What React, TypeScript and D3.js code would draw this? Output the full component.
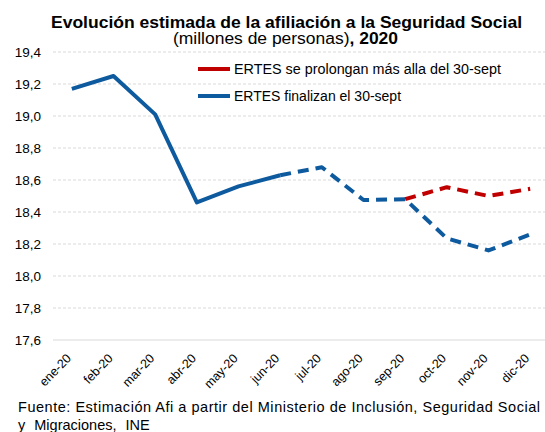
import React from "react";
import * as d3 from "d3";

const months = ["ene-20", "feb-20", "mar-20", "abr-20", "may-20", "jun-20", "jul-20", "ago-20", "sep-20", "oct-20", "nov-20", "dic-20"];
// ERTES finalizan el 30-sept (solid up to jun, estimate afterwards)
const finalizan = [19.17, 19.25, 19.01, 18.46, 18.56, 18.63, 18.68, 18.475, 18.48, 18.235, 18.16, 18.26];
// ERTES se prolongan (from sep)
const prolongan: (number | null)[] = [null, null, null, null, null, null, null, null, 18.48, 18.555, 18.5, 18.545];
const yTicks = [17.6, 17.8, 18.0, 18.2, 18.4, 18.6, 18.8, 19.0, 19.2, 19.4];
const lastObserved = 5;

const W = 545, H = 432;
const BLUE = "#0e5a9e";
const RED = "#c00000";
const FONT = "'Liberation Sans', Arial, sans-serif";

export default function App() {
  const x = d3.scaleBand<string>().domain(months).range([51, 551]).padding(0);
  const y = d3.scaleLinear().domain([17.6, 19.4]).range([340, 52]);
  const cx = (m: string) => (x(m) as number) + x.bandwidth() / 2;

  const line = d3.line<[string, number]>().x(d => cx(d[0])).y(d => y(d[1]));
  const pairs: [string, number][] = months.map((m, i) => [m, finalizan[i]]);
  const solid = line(pairs.slice(0, lastObserved + 1)) || "";
  const dashed = line(pairs.slice(lastObserved)) || "";
  const redPairs = months.map((m, i) => [m, prolongan[i]]).filter(d => d[1] != null) as [string, number][];
  const red = line(redPairs) || "";

  const fmt = (v: number) => v.toFixed(1).replace(".", ",");

  return (
    <svg width={W} height={H} style={{ position: "absolute", left: 0, top: 0, fontFamily: FONT }}>
      <rect width={W} height={H} fill="#fff" />
      <text x={51} y={28} fontSize={16.5} fontWeight="bold" fill="#000" textLength={471} lengthAdjust="spacingAndGlyphs">
        Evolución estimada de la afiliación a la Seguridad Social
      </text>
      <text x={173} y={44} fontSize={16} fill="#000" textLength={225} lengthAdjust="spacingAndGlyphs">
        (millones de personas)<tspan fontWeight="bold">, 2020</tspan>
      </text>

      {yTicks.map(t => (
        <g key={t}>
          {t > 17.6 && (
            <line x1={53} x2={W} y1={y(t)} y2={y(t)} stroke="#d9d9d9" strokeWidth={1} strokeDasharray="3,2" />
          )}
          <text x={41} y={y(t)} dy="0.36em" textAnchor="end" fontSize={13.5} fill="#000">
            {fmt(t)}
          </text>
        </g>
      ))}
      <line x1={53} x2={W} y1={y(17.6)} y2={y(17.6)} stroke="#d9d9d9" strokeWidth={1} />

      {months.map(m => (
        <text key={m} transform={`translate(${cx(m)},${359}) rotate(-46)`} textAnchor="end" fontSize={12.5} fill="#000">
          {m}
        </text>
      ))}

      <path d={solid} fill="none" stroke={BLUE} strokeWidth={4} strokeLinejoin="round" />
      <path d={dashed} fill="none" stroke={BLUE} strokeWidth={4} strokeDasharray="11,7" strokeLinejoin="round" />
      <path d={red} fill="none" stroke={RED} strokeWidth={4} strokeDasharray="11,7" strokeLinejoin="round" />

      <line x1={198} x2={230} y1={69} y2={69} stroke={RED} strokeWidth={4} />
      <text x={234} y={69} dy="0.36em" fontSize={14} fill="#000" textLength={267} lengthAdjust="spacingAndGlyphs">ERTES se prolongan más alla del 30-sept</text>
      <line x1={198} x2={230} y1={96} y2={96} stroke={BLUE} strokeWidth={4} />
      <text x={234} y={96} dy="0.36em" fontSize={14} fill="#000">ERTES finalizan el 30-sept</text>

      <text x={18} y={412} fontSize={14.5} fill="#000" textLength={522} lengthAdjust="spacing">
        Fuente: Estimación Afi a partir del Ministerio de Inclusión, Seguridad Social
      </text>
      <text x={18} y={430} fontSize={14.5} fill="#000" wordSpacing={5}>
        y Migraciones, INE
      </text>
    </svg>
  );
}
